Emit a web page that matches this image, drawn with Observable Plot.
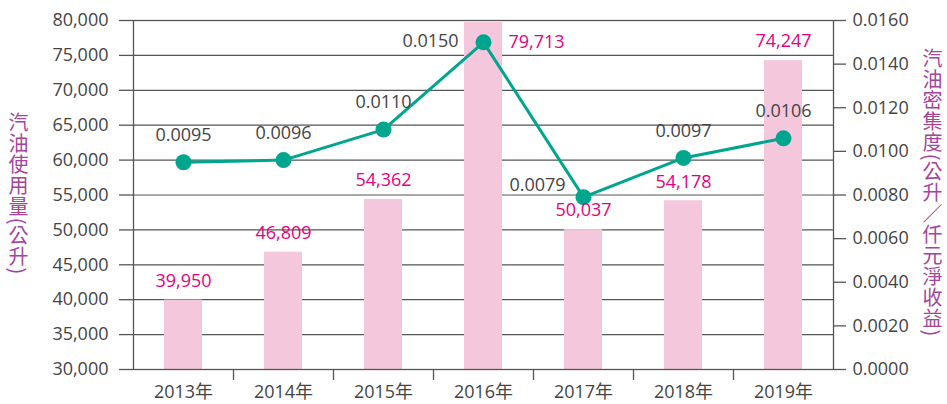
<!DOCTYPE html>
<html>
<head>
<meta charset="utf-8">
<script src="https://cdn.jsdelivr.net/npm/d3@7"></script>
<script src="https://cdn.jsdelivr.net/npm/@observablehq/plot@0.6"></script>
<style>
  html, body { margin: 0; padding: 0; background: #fff; }
  #wrap { position: relative; width: 947px; height: 404px; }
  .vtitle {
    position: absolute;
    writing-mode: vertical-rl;
    font-family: "Noto Sans CJK TC", "Noto Sans", sans-serif;
    font-size: 20px;
    letter-spacing: 1px;
    color: #a4449b;
    line-height: 20px;
    transform: translateY(-50%);
    white-space: nowrap;
  }
  .slash { text-orientation: upright; font-feature-settings: "vert" 0, "vrt2" 0; }
</style>
</head>
<body>
<div id="wrap">
  <div class="vtitle" id="lt" style="left:8px; top:194px;">汽油使用量(公升)</div>
  <div class="vtitle" id="rt" style="left:922px; top:193px;">汽油密集度(公升<span class="slash">／</span>仟元淨收益)</div>
</div>
<script>
const years = ["2013年", "2014年", "2015年", "2016年", "2017年", "2018年", "2019年"];
const usage = [39950, 46809, 54362, 79713, 50037, 54178, 74247];
const intensity = [0.0095, 0.0096, 0.0110, 0.0150, 0.0079, 0.0097, 0.0106];
const leftTicks = [30000, 35000, 40000, 45000, 50000, 55000, 60000, 65000, 70000, 75000, 80000];
const rightTicks = [0, 0.002, 0.004, 0.006, 0.008, 0.010, 0.012, 0.014, 0.016];

const leftMin = 30000, leftMax = 80000, rightMax = 0.016;
const toLeft = v => leftMin + v / rightMax * (leftMax - leftMin);
const fromLeft = y => (y - leftMin) / (leftMax - leftMin) * rightMax;

const data = years.map((year, i) => ({year, usage: usage[i], intensity: intensity[i]}));

const W = 947, H = 404, ML = 133, MR = 114, MT = 20, MB = 35;
const bw = (W - ML - MR) / years.length;

const font = "'Open Sans', 'Noto Sans CJK TC', sans-serif";
const pink = "#f5c7dc", teal = "#00a58d", magenta = "#e5007f", grey = "#444";

const special = d => d.year === "2016年";
const special2 = d => d.year === "2017年";
const lineSpecial = d => d.year === "2016年" || d.year === "2017年";

const chart = Plot.plot({
  width: W, height: H,
  marginLeft: ML, marginRight: MR, marginTop: MT, marginBottom: MB,
  x: {domain: years, padding: 0, axis: null, label: null},
  y: {domain: [leftMin, leftMax], axis: null, label: null},
  style: {fontFamily: font, fontSize: "18px", color: grey, background: "transparent"},
  marks: [
    Plot.ruleY(leftTicks, {y: d => d, stroke: "#555", strokeWidth: 1.2}),
    Plot.barY(data, {x: "year", y1: leftMin, y2: "usage", fill: pink, insetLeft: 31, insetRight: 31}),
    Plot.frame({stroke: "#555", strokeWidth: 1.3}),
    Plot.axisX({tickSize: 0, tickPadding: 16, fontSize: 18, fill: grey, label: null}),
    Plot.axisX(years.slice(1), {tickSize: 11, tickFormat: () => "", dx: -bw / 2, stroke: "#555", strokeWidth: 1.3, label: null}),
    Plot.axisY(leftTicks, {anchor: "left", tickSize: 14, tickPadding: 11, tickFormat: d3.format(","), fontSize: 18, fill: grey, stroke: "#555", strokeWidth: 1.3, label: null}),
    Plot.axisY(rightTicks.map(toLeft), {anchor: "right", tickSize: 12, tickPadding: 7, tickFormat: d => fromLeft(d).toFixed(4), fontSize: 18, fill: grey, stroke: "#555", strokeWidth: 1.3, label: null}),
    Plot.line(data, {x: "year", y: d => toLeft(d.intensity), stroke: teal, strokeWidth: 3}),
    Plot.dot(data, {x: "year", y: d => toLeft(d.intensity), r: 8, fill: teal}),
    Plot.text(data.filter(d => !special(d)), {x: "year", y: "usage", text: d => d3.format(",")(d.usage), dy: -19, fill: magenta, fontSize: 18}),
    Plot.text(data.filter(special), {x: "year", y: "usage", text: d => d3.format(",")(d.usage), dx: 53, dy: 20, fill: magenta, fontSize: 18}),
    Plot.text(data.filter(d => !lineSpecial(d)), {x: "year", y: d => toLeft(d.intensity), text: d => d.intensity.toFixed(4), dy: -27, fill: grey, fontSize: 18}),
    Plot.text(data.filter(special), {x: "year", y: d => toLeft(d.intensity), text: d => d.intensity.toFixed(4), dx: -53, dy: -1, fill: grey, fontSize: 18}),
    Plot.text(data.filter(special2), {x: "year", y: d => toLeft(d.intensity), text: d => d.intensity.toFixed(4), dx: -46, dy: -12, fill: grey, fontSize: 18})
  ]
});
chart.style.position = "absolute";
chart.style.left = "0px";
chart.style.top = "0px";
document.getElementById("wrap").prepend(chart);
</script>
</body>
</html>
